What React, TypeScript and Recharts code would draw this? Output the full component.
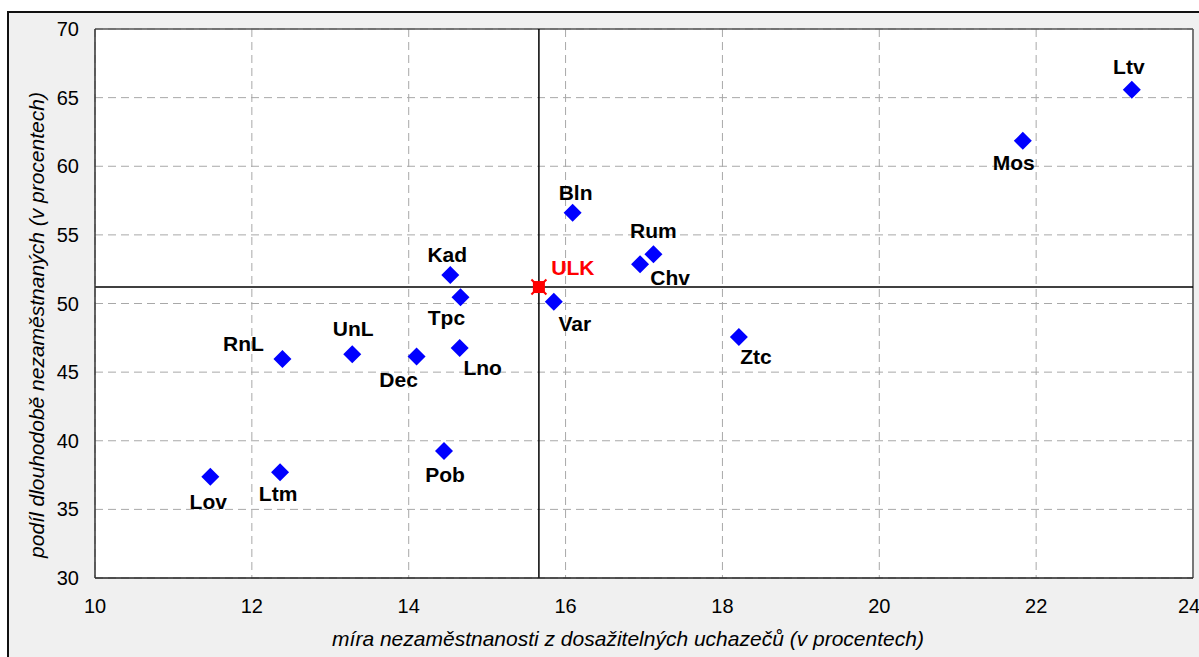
import React from 'react';
import { ScatterChart, Scatter, XAxis, YAxis, CartesianGrid, ReferenceLine, Label } from 'recharts';

const FONT = '"Liberation Sans", Arial, sans-serif';

// districts of the region: unemployment rate (x) vs share of long-term unemployed (y)
const districts = ['Ltv', 'Mos', 'Bln', 'Rum', 'Chv', 'Kad', 'Tpc', 'Var', 'Lno', 'Dec', 'UnL', 'RnL', 'Pob', 'Ltm', 'Lov', 'Ztc'];
const unemployment = [23.22, 21.83, 16.09, 17.12, 16.95, 14.53, 14.66, 15.85, 14.65, 14.1, 13.28, 12.39, 14.45, 12.36, 11.47, 18.21];
const longTermShare = [65.58, 61.85, 56.62, 53.58, 52.86, 52.08, 50.45, 50.13, 46.76, 46.13, 46.3, 45.96, 39.25, 37.7, 37.38, 47.56];

// region as a whole
const regionName = 'ULK';
const regionUnemployment = 15.66;
const regionLongTerm = 51.2;

const xTicks = [10, 12, 14, 16, 18, 20, 22, 24];
const yTicks = [30, 35, 40, 45, 50, 55, 60, 65, 70];

const xTitle = 'míra nezaměstnanosti z dosažitelných uchazečů (v procentech)';
const yTitle = 'podíl dlouhodobě nezaměstnaných (v procentech)';

const points = districts.map((name, i) => ({ name, x: unemployment[i], y: longTermShare[i] }));
const regionPoint = [{ name: regionName, x: regionUnemployment, y: regionLongTerm }];

// where each label sits relative to its marker
const labelOffset: Record<string, [number, number]> = {
  Ltv: [-3, -23], Mos: [-9, 22], Bln: [3, -20], Rum: [0, -24], Chv: [30, 13],
  Kad: [-3, -20], Tpc: [-14, 20], ULK: [34, -20], Var: [21, 22], Lno: [23, 20],
  Dec: [-18, 23], UnL: [1, -26], RnL: [-39, -15], Pob: [1, 23], Ltm: [-2, 21],
  Lov: [-2, 25], Ztc: [17, 20],
};

const PointLabel = ({ cx, cy, name, color }: any) => {
  const [dx, dy] = labelOffset[name] || [0, -20];
  return (
    <text x={cx + dx} y={cy + dy} textAnchor="middle" dominantBaseline="central"
      fontFamily={FONT} fontSize={21} fontWeight="bold" fill={color}>{name}</text>
  );
};

const Diamond = (props: any) => {
  const { cx, cy, payload } = props;
  const r = 9;
  return (
    <g>
      <polygon points={`${cx},${cy - r} ${cx + r},${cy} ${cx},${cy + r} ${cx - r},${cy}`} fill="#0000ff" />
      <PointLabel cx={cx} cy={cy} name={payload.name} color="#000" />
    </g>
  );
};

const RegionMark = (props: any) => {
  const { cx, cy, payload } = props;
  return (
    <g>
      <rect x={cx - 6} y={cy - 6} width={12} height={12} fill="#ff0000" />
      <line x1={cx - 7.5} y1={cy - 7.5} x2={cx + 7.5} y2={cy + 7.5} stroke="#ff0000" strokeWidth={2} />
      <line x1={cx - 7.5} y1={cy + 7.5} x2={cx + 7.5} y2={cy - 7.5} stroke="#ff0000" strokeWidth={2} />
      <PointLabel cx={cx} cy={cy} name={payload.name} color="#ff0000" />
    </g>
  );
};

export default function App() {
  return (
    <div style={{ position: 'absolute', left: 0, top: 0, width: 1199, height: 657, overflow: 'hidden', background: '#fff' }}>
      <div style={{ position: 'absolute', left: 7, top: 11, width: 1300, height: 700, border: '2px solid #111', background: '#f0f0f0' }} />
      <div style={{ position: 'absolute', left: 0, top: 0 }}>
        <ScatterChart width={1199} height={657} margin={{ top: 29, right: 6, bottom: 0, left: 0 }}>
          <CartesianGrid fill="#ffffff" stroke="#a8a8a8" strokeDasharray="8 5" />
          <XAxis type="number" dataKey="x" domain={[10, 24]} ticks={xTicks} height={79}
            axisLine={{ stroke: '#222', strokeWidth: 1.5 }} tickLine={false} tickSize={0} tickMargin={21}
            tick={{ fontFamily: FONT, fontSize: 20, fill: '#000' }}>
            <Label value={xTitle} position="insideBottom" offset={11} dx={-16}
              style={{ fontFamily: FONT, fontSize: 21, fontStyle: 'italic', fill: '#000' }} />
          </XAxis>
          <YAxis type="number" dataKey="y" domain={[30, 70]} ticks={yTicks} width={95}
            axisLine={{ stroke: '#333', strokeWidth: 1.5 }} tickLine={false} tickSize={0} tickMargin={16}
            tick={{ fontFamily: FONT, fontSize: 20, fill: '#000' }}>
            <Label content={() => (
              <text x={36} y={325} transform="rotate(-90 36 325)" textAnchor="middle" dominantBaseline="central"
                fontFamily={FONT} fontSize={21} fontStyle="italic" fill="#000">{yTitle}</text>
            )} />
          </YAxis>
          <ReferenceLine x={24} stroke="#777" strokeWidth={2} />
          <ReferenceLine y={70} stroke="#555" strokeWidth={1.5} />
          <ReferenceLine x={regionUnemployment} stroke="#000" strokeWidth={1.5} />
          <ReferenceLine y={regionLongTerm} stroke="#000" strokeWidth={1.5} />
          <Scatter data={points} shape={<Diamond />} isAnimationActive={false} />
          <Scatter data={regionPoint} shape={<RegionMark />} isAnimationActive={false} />
        </ScatterChart>
      </div>
    </div>
  );
}
